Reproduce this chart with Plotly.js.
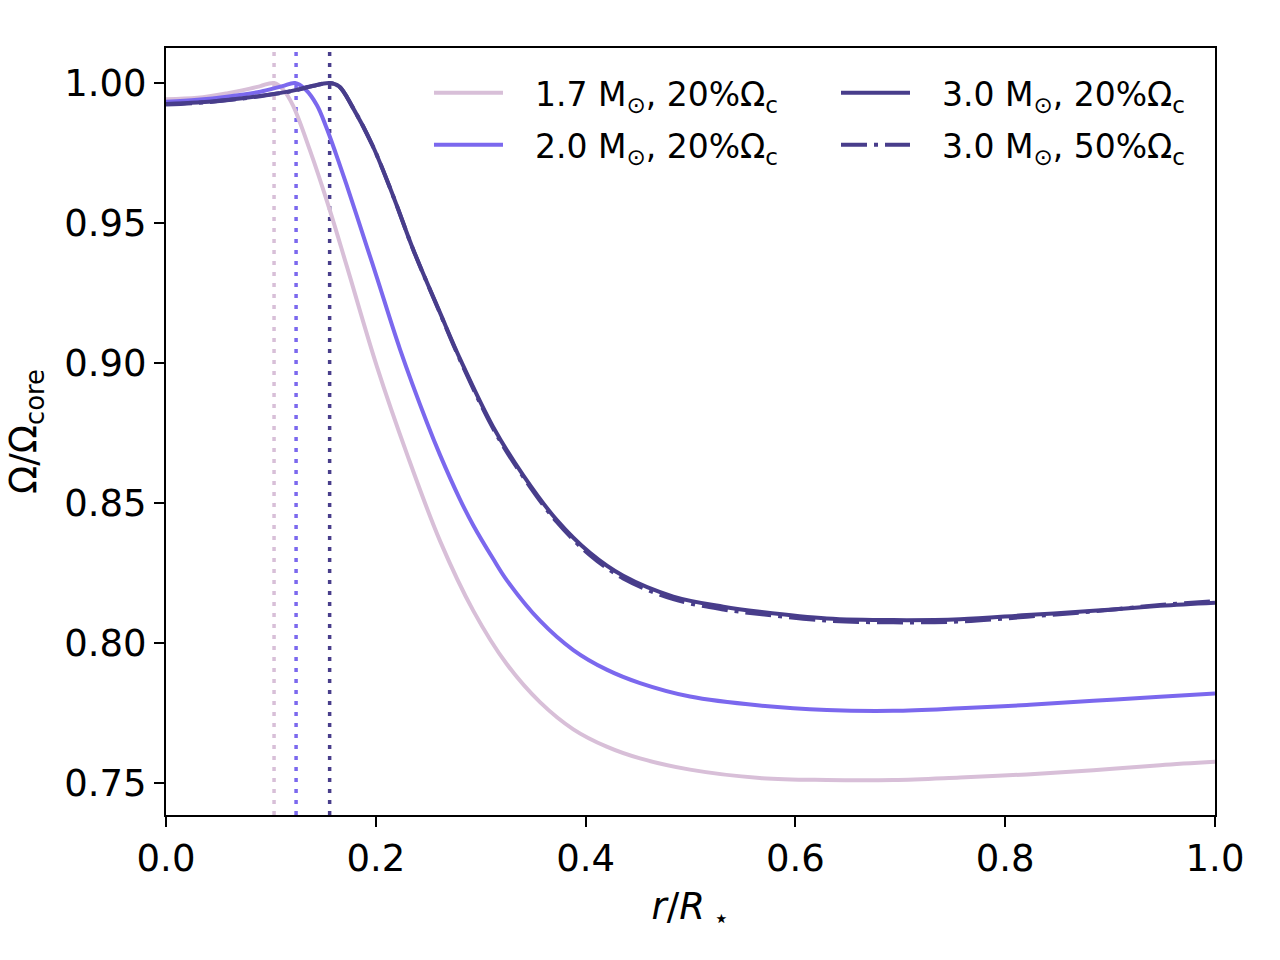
<!DOCTYPE html>
<html><head><meta charset="utf-8">
<script src="https://cdn.plot.ly/plotly-3.0.1.min.js"></script>
<style>html,body{margin:0;padding:0;background:#fff}</style>
</head><body><div id="chart" style="width:1280px;height:960px"></div>
<script>
// r/R* and Omega/Omega_core
const r17 = [0, 0.03, 0.058, 0.08, 0.09, 0.103, 0.112, 0.121, 0.137, 0.156, 0.1725, 0.201, 0.23, 0.2612, 0.293, 0.3248, 0.3565, 0.3883, 0.4201, 0.4519, 0.4995, 0.566, 0.63, 0.6933, 0.757, 0.8205, 0.884, 0.9476, 1.0];
const w17 = [0.9942, 0.9947, 0.9963, 0.9980, 0.9989, 1.0, 0.9975, 0.9920, 0.9762, 0.9548, 0.9344, 0.8988, 0.8672, 0.8365, 0.8115, 0.7925, 0.7789, 0.7692, 0.7630, 0.7588, 0.7548, 0.7518, 0.7511, 0.7511, 0.7520, 0.7531, 0.7546, 0.7564, 0.7576];

const r20 = [0, 0.03, 0.058, 0.09, 0.111, 0.123, 0.133, 0.144, 0.153, 0.162, 0.172, 0.1916, 0.201, 0.223, 0.249, 0.2612, 0.28, 0.293, 0.312, 0.3248, 0.3565, 0.3883, 0.4201, 0.4519, 0.4995, 0.566, 0.63, 0.6933, 0.757, 0.8205, 0.884, 0.9476, 1.0];
const w20 = [0.9933, 0.9940, 0.9951, 0.9969, 0.9989, 1.0, 0.9977, 0.9920, 0.9840, 0.9747, 0.9638, 0.9414, 0.9306, 0.9050, 0.8785, 0.8672, 0.8515, 0.8420, 0.8300, 0.8225, 0.8080, 0.7975, 0.7905, 0.7857, 0.7809, 0.7777, 0.7761, 0.7758, 0.7767, 0.7779, 0.7794, 0.7808, 0.7820];

const r30 = [0, 0.03, 0.06, 0.09, 0.12, 0.14, 0.156, 0.165, 0.178, 0.197, 0.2167, 0.2358, 0.2612, 0.2803, 0.312, 0.3406, 0.3724, 0.4042, 0.4359, 0.4836, 0.5313, 0.566, 0.63, 0.6933, 0.757, 0.8205, 0.884, 0.9476, 1.0];
const w30a = [0.9925, 0.9930, 0.9940, 0.9954, 0.9972, 0.9990, 1.0, 0.9988, 0.9913, 0.9776, 0.9595, 0.9404, 0.9180, 0.9015, 0.8771, 0.8599, 0.8440, 0.8322, 0.8240, 0.8166, 0.8130, 0.8112, 0.8088, 0.8082, 0.8085, 0.8100, 0.8115, 0.8133, 0.8144];
const w30b = [0.9923, 0.9929, 0.9939, 0.9953, 0.9971, 0.9989, 1.0, 0.9988, 0.9913, 0.9776, 0.9595, 0.9404, 0.9178, 0.9011, 0.8765, 0.8593, 0.8433, 0.8314, 0.8231, 0.8157, 0.8120, 0.8104, 0.8080, 0.8074, 0.8077, 0.8094, 0.8113, 0.8136, 0.8150];

// convective-core boundary positions (dotted lines)
const rBoundary = [0.103, 0.124, 0.156];

const gap = '\u2002\u00a0';
const names = ['1.7 M<sub>⊙</sub>, 20%Ω<sub>c</sub>', '2.0 M<sub>⊙</sub>, 20%Ω<sub>c</sub>', '3.0 M<sub>⊙</sub>, 20%Ω<sub>c</sub>', '3.0 M<sub>⊙</sub>, 50%Ω<sub>c</sub>'];
const colors = ['#D8BFD8', '#7B68EE', '#483D8B', '#483D8B'];

const xTicks = [0, 0.2, 0.4, 0.6, 0.8, 1.0];
const yTicks = [0.75, 0.80, 0.85, 0.90, 0.95, 1.00];

const LW = 4;
function tr(x, y, i, legend, dash) {
  return {x: x, y: y, type: 'scatter', mode: 'lines', name: gap + names[i],
    line: {color: colors[i], width: LW, shape: 'spline', smoothing: 1.0, dash: dash || 'solid'},
    legend: legend, legendgroup: 'g' + i, hoverinfo: 'skip'};
}
const data = [
  tr(r17, w17, 0, 'legend'),
  tr(r20, w20, 1, 'legend'),
  tr(r30, w30a, 2, 'legend2'),
  tr(r30, w30b, 3, 'legend2', '26px,7px,4px,7px')
];

const shapes = rBoundary.map((v, i) => ({
  type: 'line', xref: 'x', yref: 'paper', x0: v, x1: v, y0: 0, y1: 1, layer: 'below',
  line: {color: colors[i], width: 3.5, dash: '4px,7px'}
}));

const font = {family: 'DejaVu Sans', color: '#000'};
const legendCommon = {
  font: {family: 'DejaVu Sans', size: 33, color: '#000'},
  bgcolor: 'rgba(0,0,0,0)', borderwidth: 0, yanchor: 'top', xanchor: 'left',
  traceorder: 'grouped', tracegroupgap: 6, itemwidth: 69
};
const layout = {
  width: 1280, height: 960,
  margin: {l: 166, r: 65, t: 48, b: 145},
  paper_bgcolor: '#fff', plot_bgcolor: '#fff',
  font: Object.assign({size: 36}, font),
  showlegend: true,
  legend: Object.assign({x: 0.2507, y: 0.978}, legendCommon),
  legend2: Object.assign({x: 0.6387, y: 0.978}, legendCommon),
  xaxis: {range: [0, 1], tickvals: xTicks, tickformat: '.1f', ticks: 'outside', ticklen: 10, tickwidth: 2,
    tickcolor: '#000', showline: true, linecolor: '#000', linewidth: 2, mirror: true, showgrid: false, zeroline: false,
    tickfont: {family: 'DejaVu Sans', size: 37, color: '#000'},
    title: {text: '<i>r</i>/<i>R</i><sub> ⋆</sub>', font: {family: 'DejaVu Sans', size: 37, color: '#000'}, standoff: 14}},
  yaxis: {range: [0.7386, 1.0125], tickvals: yTicks, tickformat: '.2f', ticks: 'outside', ticklen: 10, tickwidth: 2,
    tickcolor: '#000', showline: true, linecolor: '#000', linewidth: 2, mirror: true, showgrid: false, zeroline: false,
    tickfont: {family: 'DejaVu Sans', size: 37, color: '#000'},
    title: {text: 'Ω/Ω<sub>core</sub>', font: {family: 'DejaVu Sans', size: 37, color: '#000'}, standoff: 16}},
  shapes: shapes
};
Plotly.newPlot('chart', data, layout, {displayModeBar: false, staticPlot: true});
</script>
</body></html>
